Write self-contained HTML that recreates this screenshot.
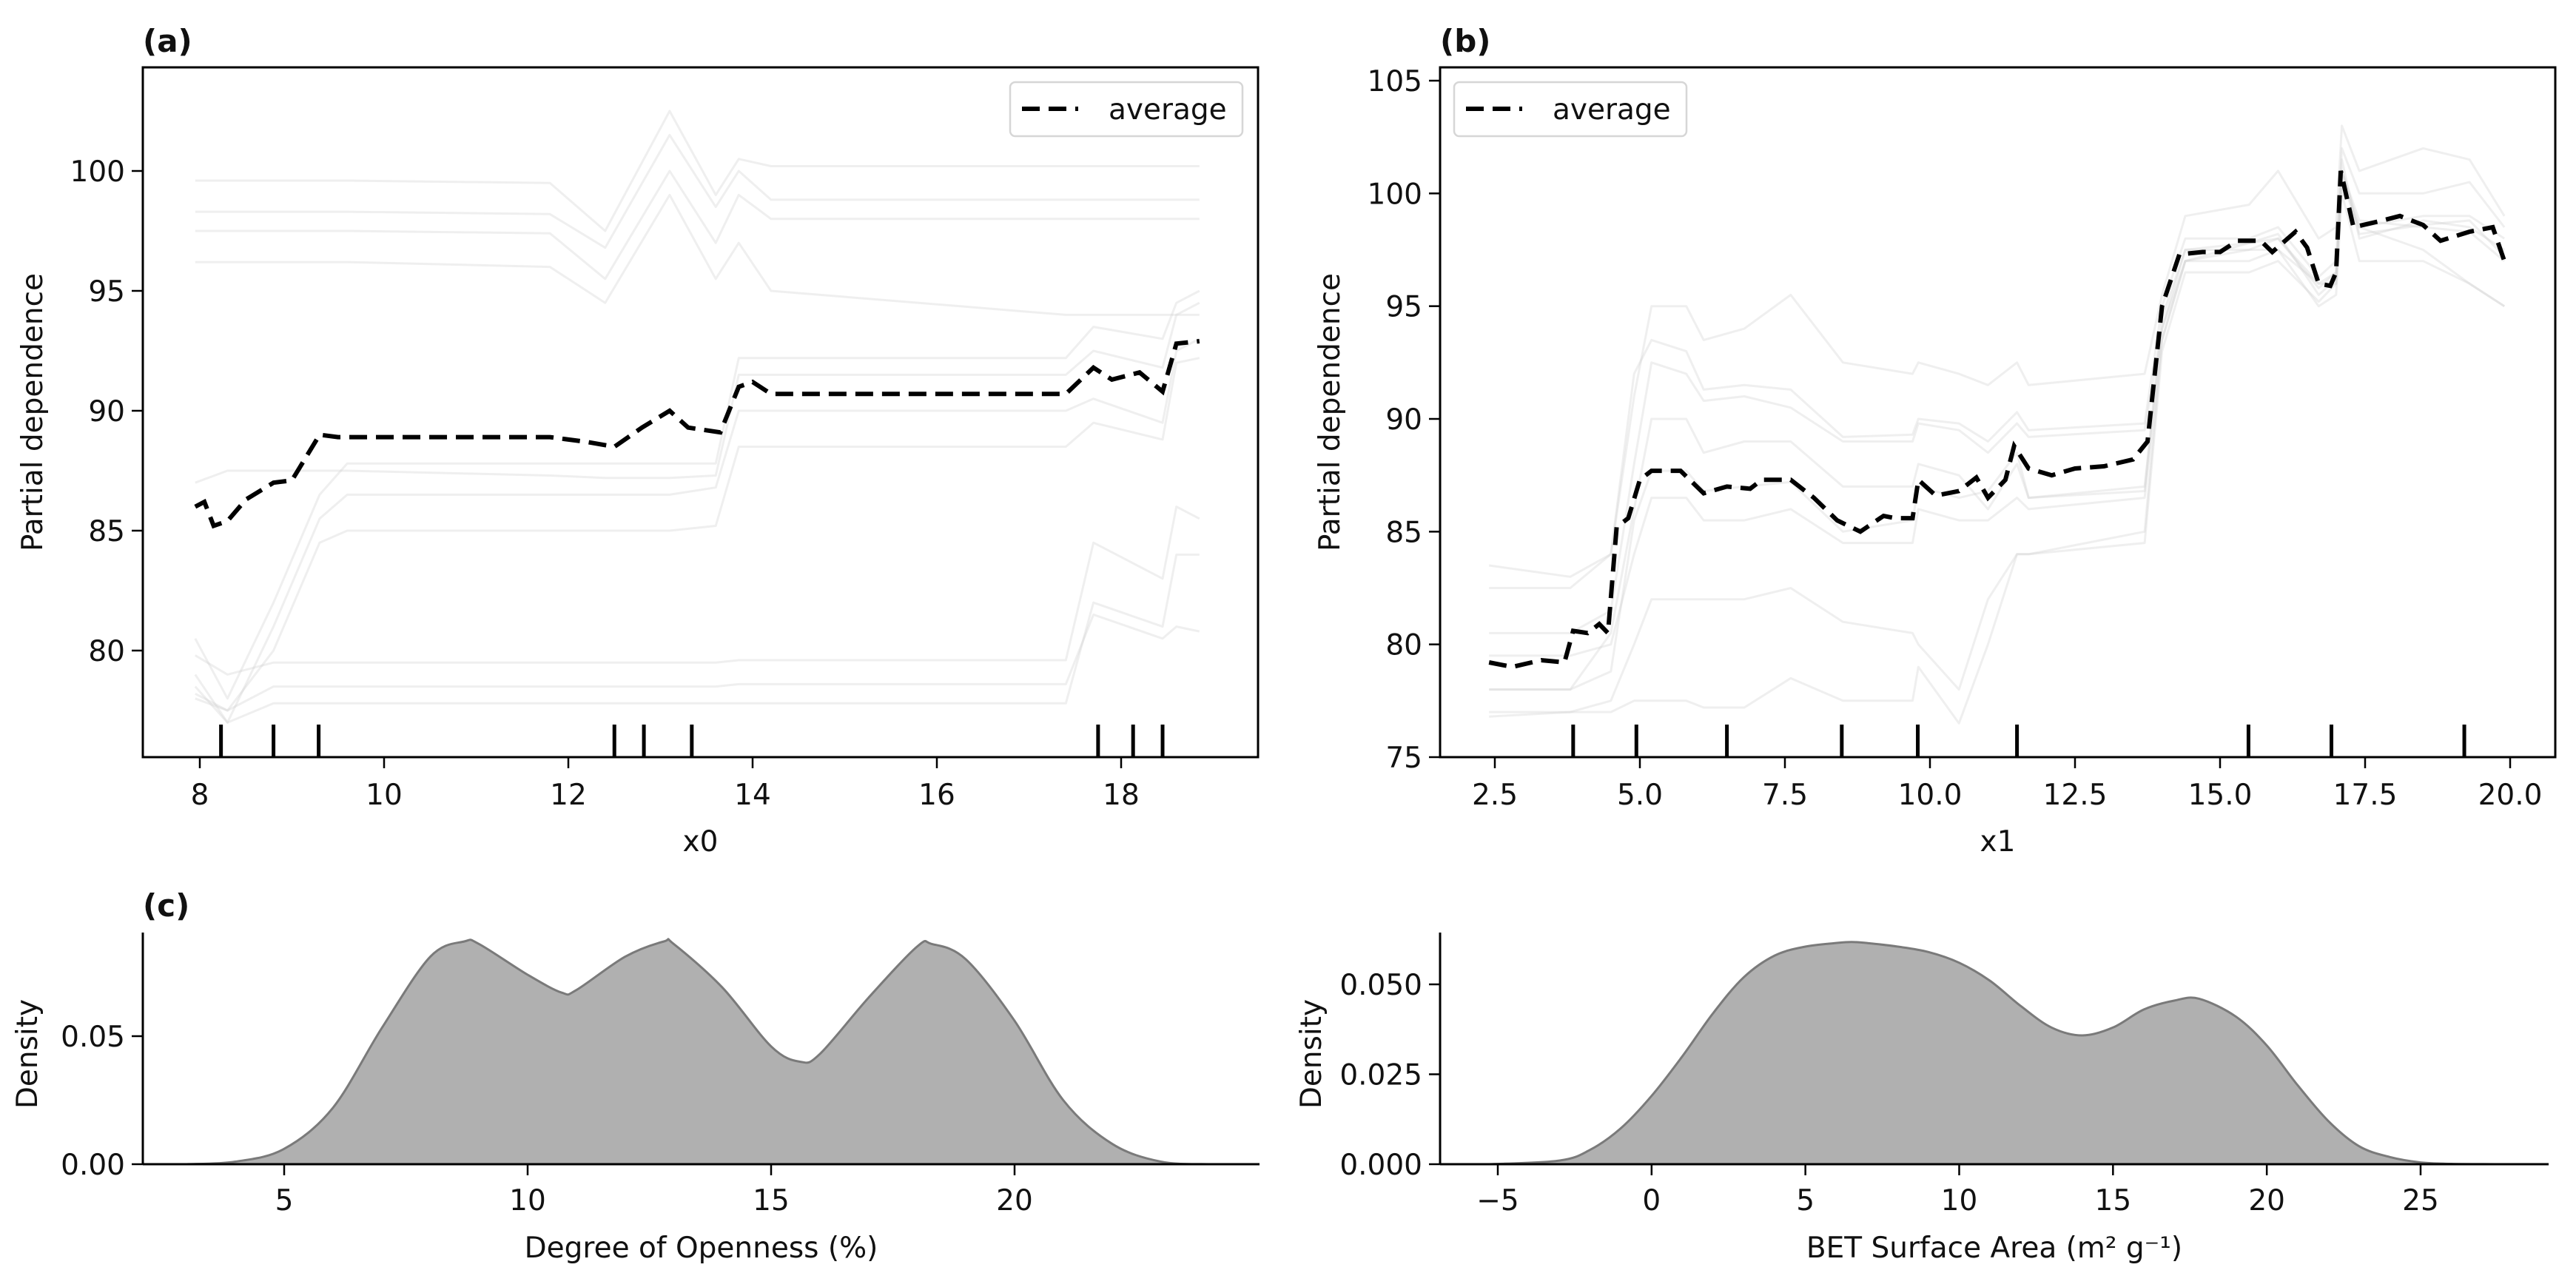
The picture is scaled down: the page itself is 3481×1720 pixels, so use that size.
<!DOCTYPE html>
<html><head><meta charset="utf-8"><style>
html,body{margin:0;padding:0;background:#fff}
svg text{font-family:"DejaVu Sans","Liberation Sans",sans-serif;fill:#111}
</style></head><body>
<svg id="fig" xmlns="http://www.w3.org/2000/svg" width="3481" height="1715" viewBox="0 0 3481 1715"></svg>
<script>
// ---------- Panel (a) data ----------
const aAvgX=[7.95,8.05,8.15,8.3,8.5,8.8,9.0,9.3,9.5,10,11,11.8,12.2,12.5,12.8,13.1,13.3,13.65,13.85,14.0,14.2,15,17.4,17.7,17.9,18.2,18.45,18.6,18.85];
const aAvgY=[86.0,86.2,85.2,85.4,86.3,87.0,87.1,89.0,88.9,88.9,88.9,88.9,88.7,88.5,89.3,90.0,89.3,89.1,91.0,91.2,90.7,90.7,90.7,91.8,91.3,91.6,90.8,92.8,92.9];
const aIceX=[7.95,8.3,8.8,9.3,9.6,11.8,12.4,13.1,13.6,13.85,14.2,17.4,17.7,18.45,18.6,18.85];
const aIce1=[98.3,98.3,98.3,98.3,98.3,98.2,96.8,101.5,98.5,100,98.8,98.8,98.8,98.8,98.8,98.8];
const aIce2=[97.5,97.5,97.5,97.5,97.5,97.4,95.5,100,97,99,98,98,98,98,98,98];
const aIce3=[96.2,96.2,96.2,96.2,96.2,96,94.5,99,95.5,97,95,94,94,94,94,94];
const aIce4=[99.6,99.6,99.6,99.6,99.6,99.5,97.5,102.5,99,100.5,100.2,100.2,100.2,100.2,100.2,100.2];
const aIce5=[80.5,78,82,86.5,87.8,87.8,87.8,87.8,87.8,92.2,92.2,92.2,93.5,93,94.5,95];
const aIce6=[79,77,81,85.5,86.5,86.5,86.5,86.5,86.8,90,90,90,90.5,89.5,92.5,93];
const aIce7=[78.2,77.5,80,84.5,85,85,85,85,85.2,88.5,88.5,88.5,89.5,88.8,92,92.2];
const aIce8=[87,87.5,87.5,87.5,87.5,87.3,87.2,87.2,87.3,91.5,91.5,91.5,92.5,91.8,94,94.5];
const aIce9=[78.5,77,77.8,77.8,77.8,77.8,77.8,77.8,77.8,77.8,77.8,77.8,82,81,84,84];
const aIce10=[79.8,79,79.5,79.5,79.5,79.5,79.5,79.5,79.5,79.6,79.6,79.6,84.5,83,86,85.5];
const aIce11=[78,77.5,78.5,78.5,78.5,78.5,78.5,78.5,78.5,78.6,78.6,78.6,81.5,80.5,81,80.8];
const aRug=[8.23,8.80,9.29,12.5,12.82,13.34,17.75,18.13,18.45];
const aXTicks=[8,10,12,14,16,18];
const aYTicks=[80,85,90,95,100];
// ---------- Panel (b) data ----------
const bAvgX=[2.4,2.8,3.3,3.7,3.85,4.1,4.3,4.45,4.6,4.8,5.0,5.2,5.7,6.1,6.5,6.9,7.1,7.6,8.0,8.4,8.8,9.2,9.4,9.7,9.8,10.1,10.5,10.8,11.0,11.3,11.45,11.7,12.1,12.5,13.0,13.5,13.75,14.0,14.3,14.7,15.0,15.3,15.7,15.9,16.3,16.5,16.7,16.9,17.0,17.08,17.3,17.8,18.1,18.5,18.8,19.3,19.7,19.9];
const bAvgY=[79.2,79.0,79.3,79.2,80.6,80.5,80.9,80.5,85.2,85.6,87.3,87.7,87.7,86.7,87.0,86.9,87.3,87.3,86.5,85.5,85.0,85.7,85.6,85.6,87.3,86.6,86.8,87.4,86.5,87.3,88.8,87.8,87.5,87.8,87.9,88.2,89.0,95.0,97.3,97.4,97.4,97.9,97.9,97.4,98.3,97.6,96.0,95.9,96.5,101.0,98.5,98.8,99.0,98.6,97.9,98.3,98.5,97.0];
const bIceX=[2.4,3.8,4.5,4.9,5.2,5.8,6.1,6.8,7.6,8.5,9.7,9.8,10.5,11.0,11.5,11.7,13.7,14.0,14.4,15.5,16.0,16.7,17.0,17.1,17.4,18.5,19.3,19.9];
const bIce1=[82.5,82.5,84,92,93.5,93,91.3,91.5,91.3,89.2,89.3,90,89.8,89,90.3,89.5,89.8,95,98,98,98.5,96.3,97,102,100,100,100.5,98.5];
const bIce2=[80.5,80.5,81.5,88,92.5,92,90.8,91,90.5,89,89,89.8,89.5,88.5,89.8,89.2,89.5,94,97.5,97.5,98,95.8,96.5,100.5,98.5,97.5,96,95];
const bIce3=[78,78,78.8,85.5,87.7,87.7,86.8,87,87.2,85,85.5,87,86.5,86.8,88.5,86.5,87,94,97,97.8,98,96,96.5,101,98.8,98.5,98.3,97];
const bIce4=[77,77,77.5,80,82,82,82,82,82.5,81,80.5,80,78,82,84,84,84.5,93,96.5,96.5,97,95.2,96,101.5,98,98.8,98.5,97.5];
const bIce5=[76.8,77,77,77.5,77.5,77.5,77.2,77.2,78.5,77.5,77.5,79,76.5,80,84,84,85,93.5,97,97,97.5,95,95.5,100,97,97,96,95];
const bIce6=[83.5,83,84,91,95,95,93.5,94,95.5,92.5,92,92.5,92,91.5,92.5,91.5,92,95.5,99,99.5,101,98,98.5,103,101,102,101.5,99];
const bIce7=[79.5,79.5,80,84,86.5,86.5,85.5,85.5,86,84.5,84.5,86,85.5,85.5,86.5,86,86.5,93.5,97,97.5,97.5,96,96,101,98.5,99,99,98];
const bIce8=[78,78,80.5,86,90,90,88.5,89,89,87,87,88,87.5,86,88,86.5,86.8,94.5,97.5,97.8,98.2,95.5,96.2,101,98.2,98.6,98.8,97.2];
const bRug=[3.85,4.94,6.50,8.48,9.79,11.50,15.49,16.92,19.21];
const bXTicks=[2.5,5.0,7.5,10.0,12.5,15.0,17.5,20.0];
const bYTicks=[75,80,85,90,95,100,105];
// ---------- Panel (c) density data ----------
const cX=[3,4,5,6,7,8,8.7,9,10,10.7,11,12,12.8,13,14,15,15.6,16,17,18,18.3,19,20,21,22,23,24];
const cY=[0,0.001,0.006,0.022,0.053,0.081,0.087,0.086,0.074,0.067,0.068,0.081,0.087,0.086,0.069,0.046,0.040,0.043,0.065,0.085,0.086,0.080,0.056,0.025,0.008,0.001,0];
const cXTicks=[5,10,15,20];
const cYTicks=[0,0.05];
const dX=[-5.3,-3,-2,-1,0,1,2,3,4,5,6,6.5,7,8,9,10,11,12,13,14,15,16,17,17.8,19,20,21,22,23,24,25,26,27.4];
const dY=[0,0.001,0.004,0.010,0.019,0.030,0.042,0.052,0.058,0.0605,0.0615,0.0618,0.0615,0.0605,0.059,0.056,0.051,0.044,0.038,0.0358,0.038,0.043,0.0455,0.046,0.041,0.033,0.022,0.012,0.005,0.002,0.0005,0.0001,0];
const dXTicks=[-5,0,5,10,15,20,25];
const dYTicks=[0,0.025,0.05];

const NS='http://www.w3.org/2000/svg';
const svg=document.getElementById('fig');
function el(tag,attrs,parent){const e=document.createElementNS(NS,tag);for(const k in attrs)e.setAttribute(k,attrs[k]);(parent||svg).appendChild(e);return e;}
function lin(d0,d1,p0,p1){return v=>p0+(v-d0)*(p1-p0)/(d1-d0);}
function poly(xs,ys,sx,sy){return xs.map((x,i)=>sx(x).toFixed(1)+','+sy(ys[i]).toFixed(1)).join(' ');}
function smooth(xs,ys,sx,sy){const P=xs.map((x,i)=>[sx(x),sy(ys[i])]);let d='M'+P[0][0]+','+P[0][1];
 for(let i=0;i<P.length-1;i++){const p0=P[Math.max(0,i-1)],p1=P[i],p2=P[i+1],p3=P[Math.min(P.length-1,i+2)];
 const c1=[p1[0]+(p2[0]-p0[0])/6,p1[1]+(p2[1]-p0[1])/6],c2=[p2[0]-(p3[0]-p1[0])/6,p2[1]-(p3[1]-p1[1])/6];
 d+=' C'+c1[0].toFixed(1)+','+c1[1].toFixed(1)+' '+c2[0].toFixed(1)+','+c2[1].toFixed(1)+' '+p2[0].toFixed(1)+','+p2[1].toFixed(1);}return d;}
function txt(x,y,s,attrs,parent){const t=el('text',Object.assign({x:x,y:y},attrs),parent);t.textContent=s;return t;}

function icePanel(o){
 const g=el('g',{});
 
 
 const sx=lin(o.xd[0],o.xd[1],o.xp[0],o.xp[1]), sy=lin(o.yd[0],o.yd[1],o.yp[0],o.yp[1]);
 const L=o.box[0],T=o.box[1],R=o.box[2],B=o.box[3];
 o.ice.forEach((ys,i)=>{const p=el('polyline',{points:poly(o.iceX,ys,sx,sy),fill:'none',stroke:'#d0d0d0','stroke-opacity':'0.35','stroke-width':'3','stroke-linejoin':'round'},g);
  
  });
 const av=el('polyline',{points:poly(o.avgX,o.avgY,sx,sy),fill:'none',stroke:'#000','stroke-width':'6','stroke-dasharray':'24,12'},g);
 
 
 o.rug.forEach(v=>{const r=el('line',{x1:sx(v),x2:sx(v),y1:B-44,y2:B,stroke:'#000','stroke-width':'5'},g);
  
  });
 const fr=el('rect',{x:L,y:T,width:R-L,height:B-T,fill:'none',stroke:'#000','stroke-width':'3'},g);
 
 
 o.xt.forEach(v=>{el('line',{x1:sx(v),x2:sx(v),y1:B,y2:B+15,stroke:'#000','stroke-width':'2.5'},g);
  const t=txt(sx(v),B+64,o.xfmt(v),{'font-size':'39','text-anchor':'middle'},g);
  
  });
 o.yt.forEach(v=>{el('line',{x1:L-15,x2:L,y1:sy(v),y2:sy(v),stroke:'#000','stroke-width':'2.5'},g);
  const t=txt(L-24,sy(v)+14,String(v),{'font-size':'39','text-anchor':'end'},g);
  
  });
 const xl=txt((L+R)/2,B+127,o.xlabel,{'font-size':'39','text-anchor':'middle'},g);
 
 
 const yl=txt(0,0,'Partial dependence',{'font-size':'39','text-anchor':'middle',transform:'translate('+(o.ylx)+','+((T+B)/2)+') rotate(-90)'},g);
 
 
 const pl=txt(L,70,o.plabel,{'font-size':'42','font-weight':'bold'},g);
 
 
 const lg=el('g',{},g);
 
 
 el('rect',{x:o.leg,y:111,width:314,height:73,rx:7,fill:'#fff','fill-opacity':'0.8',stroke:'#d6d6d6','stroke-width':'2.5'},lg);
 el('line',{x1:o.leg+16,x2:o.leg+92,y1:147,y2:147,stroke:'#000','stroke-width':'6','stroke-dasharray':'24,12'},lg);
 txt(o.leg+133,161,'average',{'font-size':'39'},lg);
}

icePanel({name:'panel-a',box:[193,91,1700,1023],xd:[8,10],xp:[270,519],yd:[100,95],yp:[231,393],
 ice:[aIce1,aIce2,aIce3,aIce4,aIce5,aIce6,aIce7,aIce8,aIce9,aIce10,aIce11],iceX:aIceX,avgX:aAvgX,avgY:aAvgY,rug:aRug,
 xt:aXTicks,yt:aYTicks,xfmt:v=>String(v),xlabel:'x0',ylx:57,plabel:'(a)',leg:1365});
icePanel({name:'panel-b',box:[1946,91,3453,1023],xd:[2.5,20],xp:[2020,3392],yd:[75,105],yp:[1023,109],
 ice:[bIce1,bIce2,bIce3,bIce4,bIce5,bIce6,bIce7,bIce8],iceX:bIceX,avgX:bAvgX,avgY:bAvgY,rug:bRug,
 xt:bXTicks,yt:bYTicks,xfmt:v=>v.toFixed(1),xlabel:'x1',ylx:1810,plabel:'(b)',leg:1965});

function kdePanel(o){
 const g=el('g',{});
 
 
 const sx=lin(o.xd[0],o.xd[1],o.xp[0],o.xp[1]), sy=lin(o.yd[0],o.yd[1],o.yp[0],o.yp[1]);
 const L=o.L,T=1260,R=o.R,B=1573;
 const d=smooth(o.xs,o.ys,sx,sy);
 const f=el('path',{d:d+' L'+sx(o.xs[o.xs.length-1])+','+B+' L'+sx(o.xs[0])+','+B+' Z',fill:'#b0b0b0',stroke:'none'},g);
 
 
 const c=el('path',{d:d,fill:'none',stroke:'#7a7a7a','stroke-width':'3'},g);
 
 
 el('line',{x1:L,x2:L,y1:T,y2:B,stroke:'#000','stroke-width':'3'},g);
 el('line',{x1:L,x2:R,y1:B,y2:B,stroke:'#000','stroke-width':'3'},g);
 o.xt.forEach(v=>{el('line',{x1:sx(v),x2:sx(v),y1:B,y2:B+15,stroke:'#000','stroke-width':'2.5'},g);
  const t=txt(sx(v),B+62,String(v).replace('-','\u2212'),{'font-size':'39','text-anchor':'middle'},g);
  
  });
 o.yt.forEach(v=>{el('line',{x1:L-15,x2:L,y1:sy(v),y2:sy(v),stroke:'#000','stroke-width':'2.5'},g);
  const t=txt(L-24,sy(v)+14,v.toFixed(o.dec),{'font-size':'39','text-anchor':'end'},g);
  
  });
 const xl=txt((L+R)/2,B+126,o.xlabel,{'font-size':'39','text-anchor':'middle'},g);
 
 
 const yl=txt(0,0,'Density',{'font-size':'39','text-anchor':'middle',transform:'translate('+o.ylx+',1424) rotate(-90)'},g);
 
 
}
kdePanel({name:'panel-c-openness',L:193,R:1702,xd:[5,20],xp:[384,1371],yd:[0,0.05],yp:[1573,1400],xs:cX,ys:cY,xt:cXTicks,yt:cYTicks,dec:2,xlabel:'Degree of Openness (%)',ylx:50});
kdePanel({name:'panel-c-bet',L:1946,R:3444,xd:[-5,25],xp:[2024,3271],yd:[0,0.05],yp:[1573,1330],xs:dX,ys:dY,xt:dXTicks,yt:dYTicks,dec:3,xlabel:'BET Surface Area (m\u00b2 g\u207b\u00b9)',ylx:1785});
const pc=txt(193,1238,'(c)',{'font-size':'42','font-weight':'bold'});


</script>
</body></html>
